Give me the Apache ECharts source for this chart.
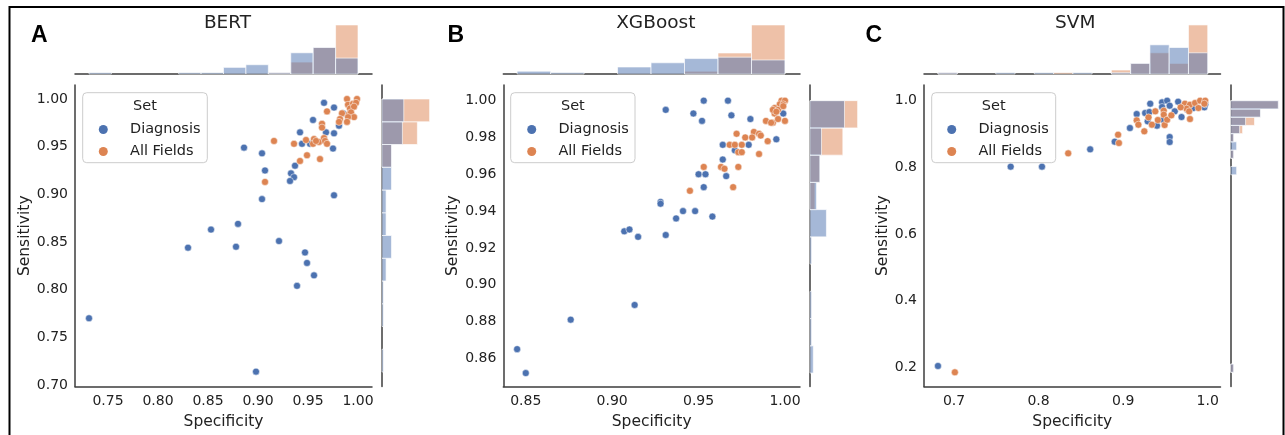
<!DOCTYPE html>
<html><head><meta charset="utf-8">
<script src="https://cdn.jsdelivr.net/npm/echarts@6/dist/echarts.min.js"></script>
<style>html,body{margin:0;padding:0;background:#fff}#c{width:1285px;height:435px}</style>
</head><body><div id="c"></div>
<script>
// ---------------- data ----------------
const seriesNames = ['Diagnosis', 'All Fields'];
const legendTitle = 'Set';
const axisNames = ['Specificity', 'Sensitivity'];
const panelLetters = ['A', 'B', 'C'];
const panelTitles = ['BERT', 'XGBoost', 'SVM'];

// BERT  [specificity, sensitivity]
const bertDiagnosis = [[0.966,0.996],[0.976,0.991],[0.955,0.978],[0.942,0.965],[0.968,0.965],[0.976,0.964],[0.981,0.972],[0.886,0.949],[0.904,0.943],[0.975,0.948],[0.907,0.925],[0.937,0.930],[0.933,0.922],[0.936,0.918],[0.932,0.914],[0.904,0.895],[0.976,0.899],[0.880,0.869],[0.853,0.863],[0.830,0.844],[0.878,0.845],[0.921,0.851],[0.947,0.839],[0.949,0.828],[0.956,0.815],[0.939,0.804],[0.731,0.770],[0.898,0.714],[0.952,0.953],[0.944,0.953],[0.985,0.985]];
const bertAllFields = [[0.989,1.000],[0.999,1.000],[0.990,0.994],[0.995,0.995],[0.998,0.996],[0.992,0.990],[0.996,0.992],[0.969,0.987],[0.984,0.985],[0.991,0.984],[0.993,0.986],[0.996,0.981],[0.990,0.981],[0.982,0.979],[0.989,0.976],[0.981,0.976],[0.964,0.974],[0.964,0.970],[0.916,0.956],[0.936,0.953],[0.948,0.957],[0.956,0.958],[0.955,0.953],[0.961,0.955],[0.966,0.959],[0.967,0.956],[0.969,0.953],[0.949,0.941],[0.942,0.935],[0.962,0.937],[0.958,0.956],[0.907,0.913]];
const bertXTicks = ['0.75','0.80','0.85','0.90','0.95','1.00'];
const bertYTicks = ['0.70','0.75','0.80','0.85','0.90','0.95','1.00'];
const bertXLimits = [0.717, 1.014];
const bertYLimits = [0.6984, 1.0147];
const bertXBinRange = [0.731, 1.0];
const bertXHistDiagnosis = [1,0,0,0,1,1,5,7,1,16,20,12];
const bertXHistAllFields = [0,0,0,0,0,0,0,0,1,9,20,37];
const bertYBinRange = [0.7136, 1.0];
const bertYHistDiagnosis = [1,0,1,1,3,7,3,3,7,7,15,16];
const bertYHistAllFields = [0,0,0,0,0,0,0,0,0,7,26,35];

// XGBoost
const xgbDiagnosis = [[0.931,0.995],[0.953,1.000],[0.967,1.000],[0.947,0.993],[0.969,0.992],[0.952,0.989],[0.980,0.990],[0.999,0.993],[0.995,0.979],[0.964,0.976],[0.979,0.976],[0.971,0.973],[0.964,0.968],[0.950,0.960],[0.954,0.960],[0.966,0.959],[0.953,0.953],[0.928,0.945],[0.928,0.944],[0.941,0.940],[0.948,0.940],[0.937,0.936],[0.958,0.937],[0.907,0.929],[0.910,0.930],[0.915,0.926],[0.931,0.927],[0.913,0.889],[0.876,0.881],[0.845,0.865],[0.850,0.852]];
const xgbAllFields = [[0.998,1.000],[1.000,1.000],[0.997,0.998],[0.999,0.998],[0.994,0.996],[0.996,0.995],[0.994,0.993],[0.993,0.995],[0.995,0.994],[0.999,0.997],[0.989,0.989],[0.993,0.988],[0.996,0.990],[1.000,0.989],[0.992,0.988],[0.972,0.982],[0.977,0.980],[0.982,0.983],[0.981,0.980],[0.985,0.982],[0.986,0.981],[0.990,0.978],[0.968,0.976],[0.971,0.976],[0.975,0.976],[0.973,0.972],[0.975,0.972],[0.985,0.971],[0.953,0.964],[0.963,0.964],[0.965,0.963],[0.973,0.964],[0.970,0.953],[0.945,0.951]];
const xgbXTicks = ['0.85','0.90','0.95','1.00'];
const xgbYTicks = ['0.86','0.88','0.90','0.92','0.94','0.96','0.98','1.00'];
const xgbXLimits = [0.837, 1.0087];
const xgbYLimits = [0.8447, 1.0085];
const xgbXBinRange = [0.845, 1.0];
const xgbXHistDiagnosis = [2,1,0,5,8,11,12,10];
const xgbXHistAllFields = [0,0,0,0,0,2,15,35];
const xgbYBinRange = [0.852, 1.0];
const xgbYHistDiagnosis = [2,1,1,0,1,10,4,6,7,21];
const xgbYHistAllFields = [0,0,0,0,0,0,3,6,20,29];

// SVM
const svmDiagnosis = [[0.767,0.802],[0.804,0.802],[0.861,0.854],[0.890,0.877],[0.908,0.918],[0.916,0.960],[0.932,0.991],[0.926,0.963],[0.931,0.966],[0.946,0.995],[0.952,1.000],[0.955,0.985],[0.946,0.981],[0.965,0.997],[0.961,0.968],[0.969,0.951],[0.929,0.938],[0.940,0.925],[0.947,0.943],[0.955,0.891],[0.955,0.876],[0.983,0.978],[0.996,0.980],[0.976,0.973],[0.997,0.989],[0.681,0.204]];
const svmAllFields = [[0.835,0.842],[0.894,0.898],[0.895,0.873],[0.916,0.941],[0.918,0.928],[0.925,0.908],[0.930,0.950],[0.938,0.968],[0.941,0.942],[0.934,0.928],[0.949,0.927],[0.948,0.970],[0.948,0.958],[0.952,0.943],[0.957,0.956],[0.973,0.991],[0.979,0.988],[0.985,0.993],[0.991,1.000],[0.997,1.000],[0.996,0.991],[0.975,0.976],[0.989,0.978],[0.978,0.968],[0.979,0.945],[0.968,0.980],[0.701,0.185]];
const svmXTicks = ['0.7','0.8','0.9','1.0'];
const svmYTicks = ['0.2','0.4','0.6','0.8','1.0'];
const svmXLimits = [0.6645, 1.0151];
const svmYLimits = [0.1424, 1.0471];
const svmXBinRange = [0.681, 1.0];
const svmXHistDiagnosis = [1,0,0,1,0,1,0,1,0,1,8,22,20,16];
const svmXHistAllFields = [1,0,0,0,0,0,1,0,0,3,8,16,8,37];
const svmYBinRange = [0.185, 1.0];
const svmYHistDiagnosis = [1,0,0,0,0,0,0,0,0,0,0,0,0,0,0,0,0,0,0,0,0,0,0,0,2,0,1,2,1,3,5,10,16];
const svmYHistAllFields = [1,0,0,0,0,0,0,0,0,0,0,0,0,0,0,0,0,0,0,0,0,0,0,0,0,0,1,0,1,4,8,10,16];

// ---------------- layout / style ----------------
const FONT = 'DejaVu Sans';
const TEXT = '#222222';
const SPINE = '#3d3d3d';
const BLUE = '#4C72B0', ORANGE = '#DD8452';
const BLUE_A = 'rgba(76,114,176,0.5)', ORANGE_A = 'rgba(221,132,82,0.5)';

const panels = [
  {pts:[bertDiagnosis,bertAllFields], xt:bertXTicks, yt:bertYTicks, xl:bertXLimits, yl:bertYLimits,
   xb:bertXBinRange, xh:[bertXHistDiagnosis,bertXHistAllFields], yb:bertYBinRange, yh:[bertYHistDiagnosis,bertYHistAllFields],
   L:{left:75, width:297, rLeft:382, yGap:42, letterX:31, titleX:227.5, boxX:82.7, boxW:124.6, legLeft:98.8}},
  {pts:[xgbDiagnosis,xgbAllFields], xt:xgbXTicks, yt:xgbYTicks, xl:xgbXLimits, yl:xgbYLimits,
   xb:xgbXBinRange, xh:[xgbXHistDiagnosis,xgbXHistAllFields], yb:xgbYBinRange, yh:[xgbYHistDiagnosis,xgbYHistAllFields],
   L:{left:503.3, width:296.7, rLeft:810, yGap:40.5, letterX:447.5, titleX:655.8, boxX:510.7, boxW:124.3, legLeft:527.2}},
  {pts:[svmDiagnosis,svmAllFields], xt:svmXTicks, yt:svmYTicks, xl:svmXLimits, yl:svmYLimits,
   xb:svmXBinRange, xh:[svmXHistDiagnosis,svmXHistAllFields], yb:svmYBinRange, yh:[svmYHistDiagnosis,svmYHistAllFields],
   L:{left:924, width:296.5, rLeft:1230.7, yGap:33, letterX:865.5, titleX:1075.3, boxX:931.7, boxW:124, legLeft:947.2}}
];
const MAIN_TOP = 85, MAIN_H = 301.5, TOPM_TOP = 22.5, TOPM_H = 51.5, RIGHT_W = 50;

function bins(range, counts) {
  const n = counts.length, out = [];
  for (let i = 0; i < n; i++) {
    if (!counts[i]) continue;
    const lo = range[0] + (range[1] - range[0]) * i / n;
    const hi = range[0] + (range[1] - range[0]) * (i + 1) / n;
    out.push([lo, hi, counts[i]]);
  }
  return out;
}
function vBar(fill) {
  return function (params, api) {
    const p0 = api.coord([api.value(0), 0]);
    const p1 = api.coord([api.value(1), api.value(2)]);
    return {type:'rect', shape:{x:p0[0], y:p1[1], width:p1[0]-p0[0], height:p0[1]-p1[1]},
            style:{fill:fill, stroke:'rgba(255,255,255,0.8)', lineWidth:0.8}};
  };
}
function hBar(fill) {
  return function (params, api) {
    const p0 = api.coord([0, api.value(0)]);
    const p1 = api.coord([api.value(2), api.value(1)]);
    return {type:'rect', shape:{x:p0[0], y:p1[1], width:p1[0]-p0[0], height:p0[1]-p1[1]},
            style:{fill:fill, stroke:'rgba(255,255,255,0.8)', lineWidth:0.8}};
  };
}
function labelFmt(labels) {
  return function (v) {
    const l = labels.find(s => Math.abs(parseFloat(s) - v) < 1e-9);
    return l === undefined ? '' : l;
  };
}

const grid = [], xAxis = [], yAxis = [], series = [], legend = [], graphic = [];
const hidden = {axisLabel:{show:false}, axisTick:{show:false}, splitLine:{show:false}};

panels.forEach((p, i) => {
  const L = p.L, g = i * 3;
  grid.push({left:L.left, top:MAIN_TOP, width:L.width, height:MAIN_H});
  grid.push({left:L.left, top:TOPM_TOP, width:L.width, height:TOPM_H});
  grid.push({left:L.rLeft, top:MAIN_TOP, width:RIGHT_W, height:MAIN_H});

  xAxis.push({gridIndex:g, type:'value', min:p.xl[0], max:p.xl[1],
    name:axisNames[0], nameLocation:'middle', nameGap:27,
    nameTextStyle:{fontFamily:FONT, fontSize:15.5, color:TEXT},
    axisLine:{show:true, lineStyle:{color:SPINE, width:1.5}}, axisTick:{show:false}, splitLine:{show:false},
    axisLabel:{customValues:p.xt.map(Number), formatter:labelFmt(p.xt), fontFamily:FONT, fontSize:14, color:TEXT, margin:8}});
  yAxis.push({gridIndex:g, type:'value', min:p.yl[0], max:p.yl[1],
    name:axisNames[1], nameLocation:'middle', nameGap:L.yGap,
    nameTextStyle:{fontFamily:FONT, fontSize:15.5, color:TEXT},
    axisLine:{show:true, lineStyle:{color:SPINE, width:1.5}}, axisTick:{show:false}, splitLine:{show:false},
    axisLabel:{customValues:p.yt.map(Number), formatter:labelFmt(p.yt), fontFamily:FONT, fontSize:14, color:TEXT, margin:7}});
  xAxis.push(Object.assign({gridIndex:g+1, type:'value', min:p.xl[0], max:p.xl[1],
    axisLine:{show:true, lineStyle:{color:SPINE, width:1.5}}}, hidden));
  yAxis.push(Object.assign({gridIndex:g+1, type:'value', min:0, max:v => v.max * 1.05,
    axisLine:{show:false}}, hidden));
  xAxis.push(Object.assign({gridIndex:g+2, type:'value', min:0, max:v => v.max * 1.05,
    axisLine:{show:false}}, hidden));
  yAxis.push(Object.assign({gridIndex:g+2, type:'value', min:p.yl[0], max:p.yl[1],
    axisLine:{show:true, lineStyle:{color:SPINE, width:1.5}}}, hidden));

  [[1, ORANGE_A], [0, BLUE_A]].forEach(([k, fill]) => {
    series.push({type:'custom', name:'hist-x-' + k, xAxisIndex:g+1, yAxisIndex:g+1, silent:true,
      data:bins(p.xb, p.xh[k]), encode:{x:[0,1], y:2}, renderItem:vBar(fill)});
    series.push({type:'custom', name:'hist-y-' + k, xAxisIndex:g+2, yAxisIndex:g+2, silent:true,
      data:bins(p.yb, p.yh[k]), encode:{x:2, y:[0,1]}, renderItem:hBar(fill)});
  });
  [[0, BLUE], [1, ORANGE]].forEach(([k, col]) => {
    series.push({type:'scatter', name:seriesNames[k], xAxisIndex:g, yAxisIndex:g, data:p.pts[k],
      symbolSize:7, itemStyle:{color:col, borderColor:'#fff', borderWidth:0.5, opacity:1},
      emphasis:{disabled:true}, z:3});
  });

  legend.push({orient:'vertical', left:L.legLeft, top:122, padding:0, itemGap:7,
    itemWidth:9, itemHeight:9, icon:'circle', selectedMode:false, data:seriesNames, z:30,
    itemStyle:{borderWidth:0},
    textStyle:{fontFamily:FONT, fontSize:14.5, color:TEXT, lineHeight:15, padding:[0,0,0,17.2]}});

  graphic.push({type:'rect', z:20, shape:{x:L.boxX, y:92.7, width:L.boxW, height:70, r:4},
    style:{fill:'rgba(255,255,255,0.85)', stroke:'#cccccc', lineWidth:1}});
  graphic.push({type:'text', z:21, style:{x:L.boxX + L.boxW/2, y:106, text:legendTitle, align:'center', verticalAlign:'middle',
    font:'14.5px "DejaVu Sans"', fill:TEXT}});
  graphic.push({type:'text', z:21, style:{x:L.letterX, y:35.5, text:panelLetters[i], align:'left', verticalAlign:'middle',
    font:'bold 23px "Liberation Sans"', fill:'#000'}});
  graphic.push({type:'text', z:21, style:{x:L.titleX, y:23.5, text:panelTitles[i], align:'center', verticalAlign:'middle',
    font:'18.5px "DejaVu Sans"', fill:TEXT}});
});

graphic.push({type:'rect', z:40, shape:{x:9.5, y:7, width:1274, height:445},
  style:{fill:null, stroke:'#000', lineWidth:2}});

const chart = echarts.init(document.getElementById('c'), null, {renderer:'canvas', width:1285, height:435});
chart.setOption({animation:false, backgroundColor:'#fff', grid, xAxis, yAxis, series, legend, graphic});
</script></body></html>
